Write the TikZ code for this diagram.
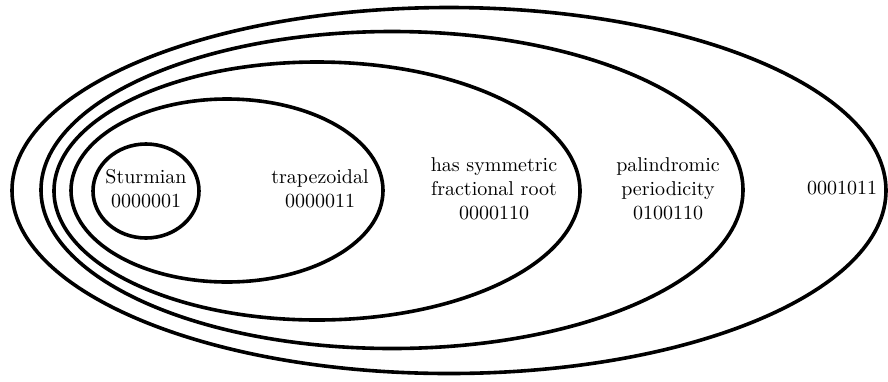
\documentclass[tikz,border=0pt]{standalone}
\begin{document}
\begin{tikzpicture}[x=0.5pt,y=-0.5pt,
  setline/.style={draw=black,line width=1.8pt},
  lbl/.style={align=center,inner sep=0pt,font=\normalsize}]
\useasboundingbox (0,0) rectangle (888,381);
\draw[setline] (449,190.5) ellipse [x radius=218.5pt, y radius=91.5pt];
\draw[setline] (392,190) ellipse [x radius=175.5pt, y radius=79.25pt];
\draw[setline] (317,191) ellipse [x radius=131.5pt, y radius=64.5pt];
\draw[setline] (227,190.5) ellipse [x radius=78pt, y radius=45.75pt];
\draw[setline] (146,191) ellipse [x radius=26.5pt, y radius=23.5pt];
\node[lbl] (stu) at (146,189) {Sturmian\\0000001};
\node[lbl] (tra) at (320,189) {trapezoidal\\0000011};
\node[lbl] (sym) at (494,189) {has symmetric\\fractional root\\0000110};
\node[lbl] (pal) at (668,189) {palindromic\\periodicity\\0100110};
\node[lbl] (oth) at (842,188) {0001011};
\end{tikzpicture}
\end{document}
